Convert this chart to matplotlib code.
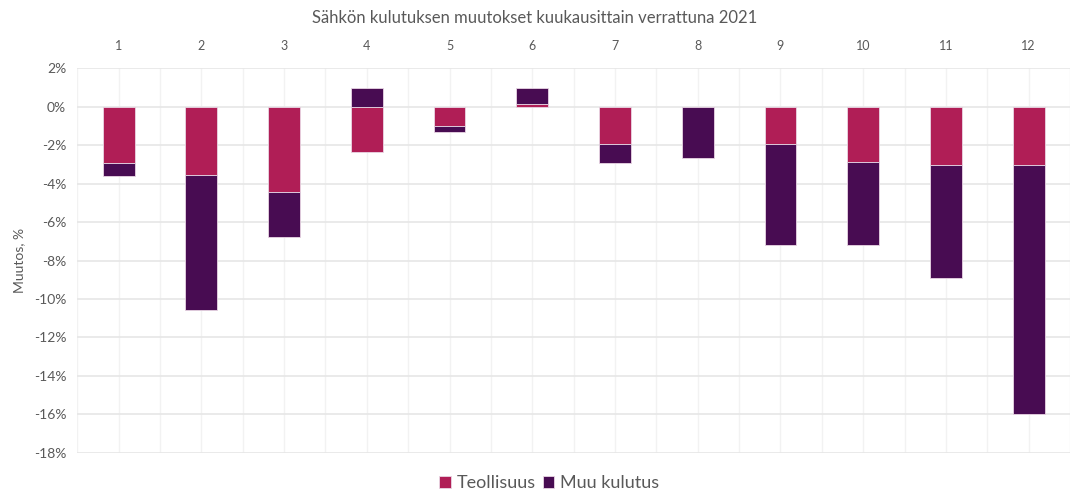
import matplotlib
matplotlib.use("Agg")
import matplotlib.pyplot as plt
import numpy as np
from matplotlib.ticker import MultipleLocator, FuncFormatter

months = ["1", "2", "3", "4", "5", "6", "7", "8", "9", "10", "11", "12"]
teollisuus = [-2.92, -3.55, -4.43, -2.35, -1.00, 0.15, -1.95, 0.0, -1.95, -2.85, -3.04, -3.04]
muu_kulutus = [-0.68, -7.05, -2.37, 1.00, -0.32, 0.85, -0.97, -2.66, -5.23, -4.33, -5.86, -12.96]

c_teol = "#B01E56"
c_muu = "#480C52"
txt = "#595959"

plt.rcParams["font.family"] = ["Lato", "DejaVu Sans"]

fig = plt.figure(figsize=(10.70, 4.93), dpi=100)
ax = fig.add_axes([77.3 / 1070, 1 - 452.7 / 493, (1070 - 77.3) / 1070, (452.7 - 68.3) / 493])

x = np.arange(1, len(months) + 1)
w = 0.385
pos_base = np.zeros(len(months))
neg_base = np.zeros(len(months))
for vals, col, lab in [(teollisuus, c_teol, "Teollisuus"), (muu_kulutus, c_muu, "Muu kulutus")]:
    v = np.array(vals)
    bottoms = np.where(v >= 0, pos_base, neg_base)
    ax.bar(x, v, w, bottom=bottoms, color=col, edgecolor="#e9d6e4", linewidth=0.6, label=lab, zorder=3)
    pos_base = pos_base + np.where(v >= 0, v, 0)
    neg_base = neg_base + np.where(v < 0, v, 0)

ax.set_ylim(-18, 2)
ax.set_xlim(0.5, 0.5 + (1070 - 77.3) / 83.4)
ax.yaxis.set_major_locator(MultipleLocator(2))
ax.yaxis.set_major_formatter(FuncFormatter(lambda v, p: f"{v:.0f}%"))
ax.set_xticks(x)
ax.set_xticklabels(months)
ax.set_xticks(np.arange(0.5, 13.5, 1), minor=True)
ax.xaxis.tick_top()
ax.tick_params(axis="x", which="both", length=0, pad=12, labelsize=9, colors=txt)
ax.tick_params(axis="y", length=0, pad=8, labelsize=10, colors=txt)

ax.grid(axis="y", color="#e6e6e6", linewidth=1.2, zorder=0)
ax.grid(axis="x", which="both", color="#f2f2f2", linewidth=1.0, zorder=0)
for s in ax.spines.values():
    s.set_visible(False)

ax.set_ylabel("Muutos, %", fontsize=10, color=txt, labelpad=6)
fig.text(0.5, 1 - 18 / 493, "Sähkön kulutuksen muutokset kuukausittain verrattuna 2021",
         ha="center", va="center", fontsize=12, color=txt)

leg = fig.legend(loc="center", bbox_to_anchor=(549 / 1070, 1 - 483 / 493), ncol=2, frameon=False,
                 fontsize=13, handlelength=0.65, handleheight=0.65, handletextpad=0.3,
                 columnspacing=0.4, labelcolor=txt)

fig.savefig("out.png", dpi=100, facecolor="white")
